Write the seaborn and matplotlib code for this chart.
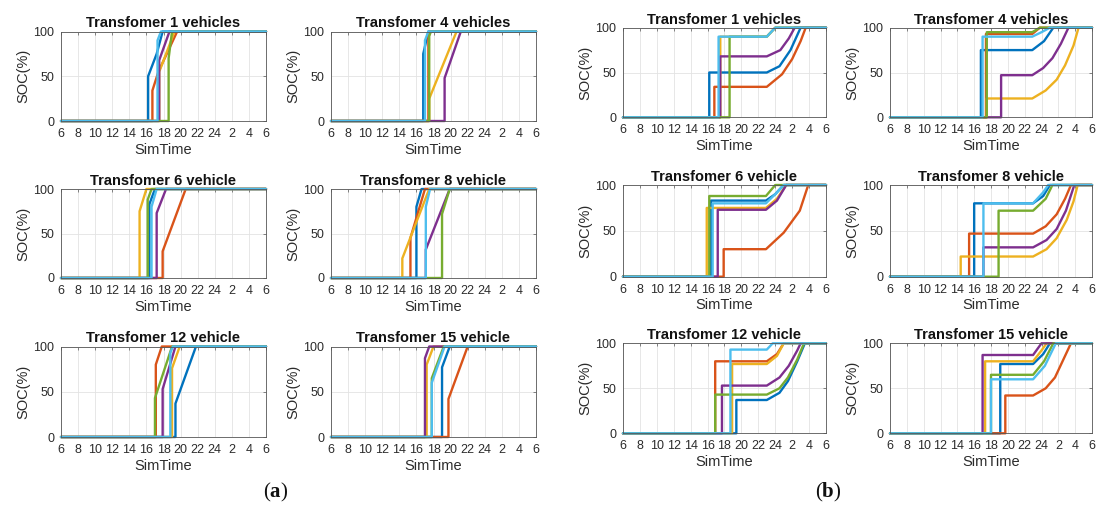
import matplotlib
matplotlib.use("Agg")
import matplotlib.pyplot as plt
import pandas as pd
import seaborn as sns

sns.set_theme(style="white")
plt.rcParams['font.family'] = ['Liberation Sans', 'DejaVu Sans']
plt.rcParams['mathtext.fontset'] = 'custom'
plt.rcParams['mathtext.rm'] = 'Liberation Serif'
plt.rcParams['mathtext.bf'] = 'Liberation Serif:bold'

SERIES = ["blue", "orange", "yellow", "purple", "green", "cyan"]
COLORS = ["#0072BD", "#D95319", "#EDB120", "#7E2F8E", "#77AC30", "#4DBEEE"]
X_TICKS = [6, 8, 10, 12, 14, 16, 18, 20, 22, 24, 26, 28, 30]
X_TICK_LABELS = ["6", "8", "10", "12", "14", "16", "18", "20", "22", "24", "2", "4", "6"]
Y_TICKS = [0, 50, 100]
TITLES = ["Transfomer 1 vehicles", "Transfomer 4 vehicles", "Transfomer 6 vehicle",
          "Transfomer 8 vehicle", "Transfomer 12 vehicle", "Transfomer 15 vehicle"]

# ---------------- (a) panels : time (h, >24 = next day), SOC (%) ----------------
A1_T = [[6, 16.2, 16.2, 17.2, 17.9, 30], [6, 16.7, 16.7, 17.4, 19.6, 30], [6, 17.5, 17.5, 19.3, 30],
        [6, 17.5, 17.5, 18.7, 30], [6, 18.6, 18.6, 19.0, 30], [6, 17.3, 17.3, 17.7, 30]]
A1_SOC = [[0, 0, 50, 75, 100, 100], [0, 0, 34, 55, 100, 100], [0, 0, 55, 100, 100],
          [0, 0, 68, 100, 100], [0, 0, 70, 100, 100], [0, 0, 90, 100, 100]]

A2_T = [[6, 16.8, 16.8, 17.4, 30], [6, 17.4, 17.4, 17.6, 30], [6, 17.5, 17.5, 20.7, 30],
        [6, 19.3, 19.3, 21.2, 30], [6, 17.5, 17.5, 17.7, 30], [6, 17.0, 17.0, 17.4, 30]]
A2_SOC = [[0, 0, 75, 100, 100], [0, 0, 93, 100, 100], [0, 0, 25, 100, 100],
          [0, 0, 48, 100, 100], [0, 0, 95, 100, 100], [0, 0, 90, 100, 100]]

A3_T = [[6, 16.35, 16.35, 17.0, 30], [6, 17.9, 17.9, 20.6, 30], [6, 15.2, 15.2, 16.0, 30],
        [6, 17.2, 17.2, 18.3, 30], [6, 16.15, 16.15, 16.6, 30], [6, 16.6, 16.6, 17.2, 30]]
A3_SOC = [[0, 0, 83, 100, 100], [0, 0, 30, 100, 100], [0, 0, 75, 100, 100],
          [0, 0, 73, 100, 100], [0, 0, 88, 100, 100], [0, 0, 80, 100, 100]]

A4_T = [[6, 16.0, 16.0, 16.6, 30], [6, 15.3, 15.3, 17.0, 30], [6, 14.35, 14.35, 17.5, 30],
        [6, 17.1, 17.1, 19.9, 30], [6, 19.0, 19.0, 19.9, 30], [6, 17.1, 17.1, 17.6, 30]]
A4_SOC = [[0, 0, 80, 100, 100], [0, 0, 45, 100, 100], [0, 0, 22, 100, 100],
          [0, 0, 32, 100, 100], [0, 0, 72, 100, 100], [0, 0, 80, 100, 100]]

A5_T = [[6, 19.4, 19.4, 21.8, 30], [6, 17.1, 17.1, 17.8, 30], [6, 19.0, 19.0, 19.9, 30],
        [6, 17.9, 17.9, 19.4, 30], [6, 17.0, 17.0, 19.0, 30], [6, 18.8, 18.8, 19.1, 30]]
A5_SOC = [[0, 0, 37, 100, 100], [0, 0, 80, 100, 100], [0, 0, 76, 100, 100],
          [0, 0, 53, 100, 100], [0, 0, 43, 100, 100], [0, 0, 93, 100, 100]]

A6_T = [[6, 19.0, 19.0, 19.9, 30], [6, 19.75, 19.75, 22.0, 30], [6, 17.2, 17.2, 18.0, 30],
        [6, 17.0, 17.0, 17.5, 30], [6, 17.8, 17.8, 19.2, 30], [6, 17.8, 17.8, 19.3, 30]]
A6_SOC = [[0, 0, 77, 100, 100], [0, 0, 42, 100, 100], [0, 0, 80, 100, 100],
          [0, 0, 87, 100, 100], [0, 0, 65, 100, 100], [0, 0, 60, 100, 100]]

# ---------------- (b) panels ----------------
B1_T = [[6, 16.2, 16.2, 23.0, 24.5, 25.8, 27.0, 30], [6, 16.8, 16.8, 23.0, 24.8, 26.0, 27.0, 27.6, 30],
        [6, 17.5, 17.5, 23.0, 24.0, 30], [6, 17.5, 17.5, 23.0, 24.6, 25.6, 26.3, 30],
        [6, 18.6, 18.6, 23.0, 24.0, 30], [6, 17.3, 17.3, 23.0, 24.0, 30]]
B1_SOC = [[0, 0, 50, 50, 57, 75, 100, 100], [0, 0, 34, 34, 48, 65, 85, 100, 100],
          [0, 0, 90, 90, 100, 100], [0, 0, 68, 68, 75, 88, 100, 100],
          [0, 0, 90, 90, 100, 100], [0, 0, 90, 90, 100, 100]]

B2_T = [[6, 16.8, 16.8, 22.9, 24.3, 25.4, 30], [6, 17.4, 17.4, 22.9, 23.8, 30],
        [6, 17.5, 17.5, 22.9, 24.5, 25.8, 26.8, 27.8, 28.4, 30],
        [6, 19.2, 19.2, 22.9, 24.2, 25.3, 26.3, 27.2, 30],
        [6, 17.5, 17.5, 22.9, 23.8, 30], [6, 17.0, 17.0, 22.9, 24.0, 25.0, 30]]
B2_SOC = [[0, 0, 75, 75, 85, 100, 100], [0, 0, 93, 93, 100, 100],
          [0, 0, 21, 21, 30, 42, 58, 80, 100, 100],
          [0, 0, 47, 47, 55, 66, 82, 100, 100],
          [0, 0, 95, 95, 100, 100], [0, 0, 90, 90, 95, 100, 100]]

B3_T = [[6, 16.4, 16.4, 22.9, 24.0, 25.0, 30], [6, 17.9, 17.9, 22.9, 25.0, 26.9, 27.9, 30],
        [6, 15.9, 15.9, 22.9, 24.2, 25.3, 30], [6, 17.2, 17.2, 22.9, 24.2, 25.3, 30],
        [6, 16.2, 16.2, 22.9, 24.0, 30], [6, 16.6, 16.6, 22.9, 24.0, 25.0, 30]]
B3_SOC = [[0, 0, 83, 83, 90, 100, 100], [0, 0, 30, 30, 48, 72, 100, 100],
          [0, 0, 75, 75, 85, 100, 100], [0, 0, 73, 73, 83, 100, 100],
          [0, 0, 88, 88, 100, 100], [0, 0, 80, 80, 90, 100, 100]]

B4_T = [[6, 16.0, 16.0, 23.0, 24.2, 25.0, 30], [6, 15.4, 15.4, 23.0, 24.5, 25.8, 26.8, 27.5, 30],
        [6, 14.4, 14.4, 23.0, 24.6, 25.8, 27.0, 27.8, 28.3, 30],
        [6, 17.1, 17.1, 23.0, 24.6, 25.8, 26.9, 27.9, 30],
        [6, 18.9, 18.9, 23.0, 24.5, 25.3, 30], [6, 17.1, 17.1, 23.0, 24.2, 24.8, 30]]
B4_SOC = [[0, 0, 80, 80, 88, 100, 100], [0, 0, 47, 47, 55, 68, 85, 100, 100],
          [0, 0, 22, 22, 30, 42, 62, 82, 100, 100],
          [0, 0, 32, 32, 40, 52, 72, 100, 100],
          [0, 0, 72, 72, 85, 100, 100], [0, 0, 80, 80, 92, 100, 100]]

B5_T = [[6, 19.4, 19.4, 23.0, 24.5, 25.5, 26.6, 27.5, 30], [6, 16.9, 16.9, 23.0, 24.2, 25.0, 30],
        [6, 18.9, 18.9, 23.0, 24.2, 25.0, 30], [6, 17.7, 17.7, 23.0, 24.5, 25.6, 26.6, 27.0, 30],
        [6, 16.9, 16.9, 23.0, 24.5, 25.5, 26.6, 27.4, 30], [6, 18.7, 18.7, 23.0, 23.7, 30]]
B5_SOC = [[0, 0, 37, 37, 45, 58, 80, 100, 100], [0, 0, 80, 80, 88, 100, 100],
          [0, 0, 77, 77, 86, 100, 100], [0, 0, 53, 53, 62, 75, 92, 100, 100],
          [0, 0, 43, 43, 50, 62, 82, 100, 100], [0, 0, 93, 93, 100, 100]]

B6_T = [[6, 19.1, 19.1, 23.0, 24.2, 25.0, 30], [6, 19.7, 19.7, 23.0, 24.5, 25.6, 26.6, 27.5, 30],
        [6, 17.3, 17.3, 23.0, 24.0, 24.6, 30], [6, 17.0, 17.0, 23.0, 24.0, 30],
        [6, 18.0, 18.0, 23.0, 24.3, 25.4, 30], [6, 18.0, 18.0, 23.0, 24.4, 25.7, 30]]
B6_SOC = [[0, 0, 77, 77, 88, 100, 100], [0, 0, 42, 42, 50, 62, 82, 100, 100],
          [0, 0, 80, 80, 92, 100, 100], [0, 0, 87, 87, 100, 100],
          [0, 0, 65, 65, 80, 100, 100], [0, 0, 60, 60, 75, 100, 100]]

A_DATA = [(A1_T, A1_SOC), (A2_T, A2_SOC), (A3_T, A3_SOC), (A4_T, A4_SOC), (A5_T, A5_SOC), (A6_T, A6_SOC)]
B_DATA = [(B1_T, B1_SOC), (B2_T, B2_SOC), (B3_T, B3_SOC), (B4_T, B4_SOC), (B5_T, B5_SOC), (B6_T, B6_SOC)]

# ---------------- layout (pixel boxes: x0, y0, x1, y1, top-origin) ----------------
W, H = 1097, 513
A_BOXES = [(61, 31.5, 266, 121), (331, 31.5, 536, 121),
           (61, 189, 266, 278), (331, 189, 536, 278),
           (61, 346.5, 266, 437), (331, 346.5, 536, 437)]
B_BOXES = [(623, 27.7, 826, 117.3), (890, 27.7, 1092, 117.3),
           (623, 185, 826, 276.7), (890, 185, 1092, 276.7),
           (623, 343.3, 826, 433.3), (890, 343.3, 1092, 433.3)]

fig = plt.figure(figsize=(W / 100, H / 100), dpi=100)
fig.patch.set_facecolor("white")

TXT = "#2b2b2b"


def draw_panel(box, title, T, SOC):
    x0, y0, x1, y1 = box
    ax = fig.add_axes([x0 / W, (H - y1) / H, (x1 - x0) / W, (y1 - y0) / H])
    rows = []
    for name, ts, ss in zip(SERIES, T, SOC):
        for i, (t, s) in enumerate(zip(ts, ss)):
            rows.append({"series": name, "t": t, "soc": s, "k": i})
    df = pd.DataFrame(rows)
    sns.lineplot(data=df, x="t", y="soc", hue="series", hue_order=SERIES, palette=COLORS,
                 sort=False, estimator=None, legend=False, linewidth=1.7, ax=ax)
    for ln in ax.lines:
        ln.set_clip_on(False)
    ax.set_xlim(6, 30)
    ax.set_ylim(0, 100)
    ax.set_xticks(X_TICKS)
    ax.set_xticklabels(X_TICK_LABELS)
    ax.set_yticks(Y_TICKS)
    ax.grid(True, color="#e3e3e3", linewidth=0.6)
    ax.set_axisbelow(True)
    ax.tick_params(direction="in", length=2.5, width=0.5, top=True, right=True,
                   labelsize=9, labelcolor=TXT, color="#555555")
    ax.tick_params(axis="x", pad=5)
    ax.tick_params(axis="y", pad=5)
    for sp in ax.spines.values():
        sp.set_color("#555555")
        sp.set_linewidth(0.6)
    ax.set_xlabel("SimTime", fontsize=10.5, color=TXT, labelpad=2)
    ax.set_ylabel("SOC(%)", fontsize=10.5, color=TXT, labelpad=2)
    ax.set_title(title, fontsize=10.5, fontweight="bold", color="#111111", pad=3)
    ax.set_facecolor("white")


for box, title, (T, SOC) in zip(A_BOXES, TITLES, A_DATA):
    draw_panel(box, title, T, SOC)
for box, title, (T, SOC) in zip(B_BOXES, TITLES, B_DATA):
    draw_panel(box, title, T, SOC)

fig.text(276 / W, 1 - 492 / H, r"($\mathbf{a}$)", ha="center", va="center", fontsize=15,
         family=["Liberation Serif", "DejaVu Serif"], color="#111111")
fig.text(828 / W, 1 - 492 / H, r"($\mathbf{b}$)", ha="center", va="center", fontsize=15,
         family=["Liberation Serif", "DejaVu Serif"], color="#111111")

fig.savefig("out.png", dpi=100, facecolor="white")
